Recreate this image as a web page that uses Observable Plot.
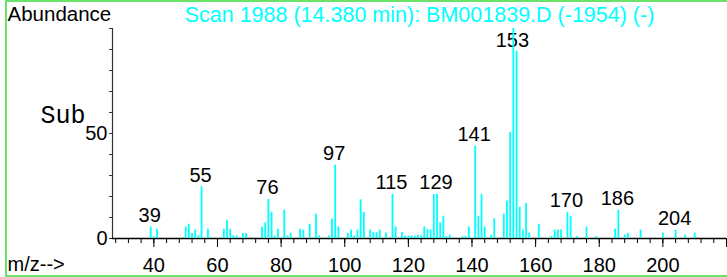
<!DOCTYPE html>
<html>
<head>
<meta charset="utf-8">
<script src="https://cdn.jsdelivr.net/npm/d3@7"></script>
<script src="https://cdn.jsdelivr.net/npm/@observablehq/plot@0.6"></script>
<style>
  html, body { margin: 0; padding: 0; background: #fff; overflow: hidden; }
  #chart svg { display: block; }
</style>
</head>
<body>
<div id="chart"></div>
<script>
// ---- data ----
const mzValues = [39,40,41,50,51,52,53,54,55,57,58,62,63,64,65,66,68,69,74,75,76,77,78,79,81,82,83,86,87,89,91,92,95,96,97,98,
  101,102,103,104,105,106,108,109,110,111,113,115,116,118,119,120,121,122,123,124,125,126,127,128,129,130,131,132,133,137,138,139,
  141,142,143,144,146,147,150,151,152,153,154,155,156,157,158,161,165,166,167,168,170,171,173,176,179,185,186,188,189,193,200,204,207,210];
const abundance = [5.5,0.8,4.4,5.5,6.8,2.4,4.0,1.4,24.6,4.4,0.5,4.4,8.7,4.4,1.2,1.2,2.4,2.4,5.5,7.4,18.6,12.4,1.2,4.4,13.5,1.2,2.4,4.4,4.0,6.8,11.6,1.2,1.2,9.2,34.9,5.5,
  2.4,4.0,1.2,4.0,18.4,12.4,4.0,2.8,2.8,4.0,2.6,21.0,5.5,2.8,1.2,1.2,1.2,1.2,1.6,1.2,5.5,4.4,4.0,21.0,21.0,7.4,10.6,1.0,1.6,0.8,1.0,5.5,
  44.0,10.6,21.0,5.5,1.4,9.4,11.6,17.8,50.5,100,89.2,14.8,4.0,16.7,2.6,6.8,1.0,4.0,4.0,4.0,12.4,10.6,1.0,5.5,1.0,4.4,13.5,1.6,2.5,4.0,2.6,4.0,1.6,2.6];
const labeledPeaks = [39,55,76,97,115,129,141,153,170,186,204];
const xDomain = [27, 220];
const yDomain = [0, 100];
const xMinorTicks = d3.range(28, 221, 4);
const xMajorTicks = d3.range(40, 221, 20);
const yTicks = d3.range(0, 101, 10);
const yLabeledTicks = [0, 50];
const titleText = "Scan 1988 (14.380 min): BM001839.D (-1954) (-)";
const yTitle = "Abundance";
const xTitle = "m/z-->";
const subText = "Sub";

const spectrum = mzValues.map((mz, i) => ({mz, ab: abundance[i]}));
const labels = spectrum.filter(d => labeledPeaks.includes(d.mz));

const sans = "Arial, 'Liberation Sans', Helvetica, sans-serif";

const chart = Plot.plot({
  width: 727,
  height: 277,
  marginLeft: 112,
  marginRight: 1,
  marginTop: 28,
  marginBottom: 39,
  style: {fontFamily: sans, fontSize: "20px", background: "#fff", color: "#000", overflow: "visible"},
  x: {domain: xDomain},
  y: {domain: yDomain},
  marks: [
    Plot.text([yTitle], {frameAnchor: "top-left", dx: -105, dy: -8, lineAnchor: "bottom", textAnchor: "start", fontSize: 20.5, fill: "#000"}),
    Plot.text([titleText], {frameAnchor: "top", dy: -7, lineAnchor: "bottom", fontSize: 21.5, fill: "#00ffff"}),
    Plot.text([subText], {frameAnchor: "top-left", dx: -72, dy: 94, lineAnchor: "bottom", textAnchor: "start", fontSize: 25, fontFamily: "'Liberation Mono', 'Courier New', monospace", fill: "#000"}),
    Plot.text([xTitle], {frameAnchor: "bottom-left", dx: -105, dy: 32, lineAnchor: "bottom", textAnchor: "start", fontSize: 20, fill: "#000"}),
    Plot.axisX(xMinorTicks, {label: null, tickSize: 5, tickFormat: () => "", stroke: "#000"}),
    Plot.axisX(xMajorTicks, {label: null, tickSize: 9, tickPadding: 10, tickFormat: d => d < 220 ? String(d) : "", fontSize: 20, stroke: "#000", fill: "#000"}),
    Plot.axisY(yTicks, {label: null, tickSize: 3, tickPadding: 2, tickFormat: d => yLabeledTicks.includes(d) ? String(d) : "", fontSize: 20, stroke: "#333", fill: "#000"}),
    Plot.ruleX([xDomain[0]], {y1: yDomain[0], y2: yDomain[1], stroke: "#333", strokeWidth: 1.2}),
    Plot.ruleY([0], {stroke: "#000", strokeWidth: 1.5}),
    Plot.text(labels, {x: "mz", y: d => Math.min(d.ab, 89), dy: -5, dx: -1, lineAnchor: "bottom", text: d => String(d.mz), fontSize: 20, fill: "#000"}),
    Plot.ruleX(spectrum, {x: "mz", y1: 0, y2: "ab", stroke: "#00ffff", strokeWidth: 1.8})
  ]
});
// decorative green border of the whole picture (open on the right, as in the reference)
d3.select(chart).insert("rect", ":first-child")
  .attr("x", 6).attr("y", 1).attr("width", 740).attr("height", 275)
  .attr("fill", "none").attr("stroke", "#44dd44").attr("stroke-width", 1.6);
document.getElementById("chart").appendChild(chart);
</script>
</body>
</html>
